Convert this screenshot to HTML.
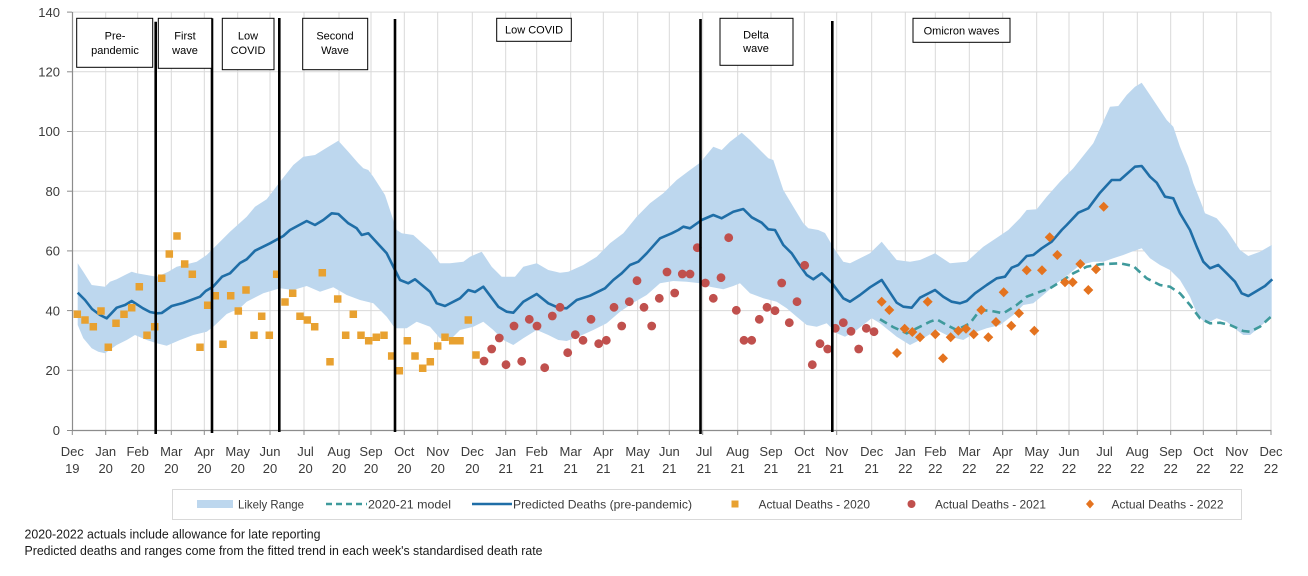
<!DOCTYPE html>
<html><head><meta charset="utf-8"><style>
html,body{margin:0;padding:0;background:#fff;}
svg{display:block;font-family:"Liberation Sans",sans-serif;}
</style></head><body>
<svg width="1308" height="576" viewBox="0 0 1308 576" xmlns="http://www.w3.org/2000/svg">
<rect width="1308" height="576" fill="#fff"/>
<!-- horizontal grid -->
<g stroke="#d9d9d9" stroke-width="1">
<line x1="72" y1="12.1" x2="1271" y2="12.1"/>
<line x1="72" y1="71.8" x2="1271" y2="71.8"/>
<line x1="72" y1="131.5" x2="1271" y2="131.5"/>
<line x1="72" y1="191.2" x2="1271" y2="191.2"/>
<line x1="72" y1="250.9" x2="1271" y2="250.9"/>
<line x1="72" y1="310.6" x2="1271" y2="310.6"/>
<line x1="72" y1="370.3" x2="1271" y2="370.3"/>
</g>
<!-- vertical grid -->
<g stroke="#d9d9d9" stroke-width="1">
<line x1="105.7" y1="12" x2="105.7" y2="430"/><line x1="137.7" y1="12" x2="137.7" y2="430"/><line x1="171.3" y1="12" x2="171.3" y2="430"/><line x1="204.3" y1="12" x2="204.3" y2="430"/><line x1="237.7" y1="12" x2="237.7" y2="430"/><line x1="270" y1="12" x2="270" y2="430"/><line x1="304" y1="12" x2="304" y2="430"/><line x1="339" y1="12" x2="339" y2="430"/><line x1="371" y1="12" x2="371" y2="430"/><line x1="404.3" y1="12" x2="404.3" y2="430"/><line x1="437.7" y1="12" x2="437.7" y2="430"/><line x1="472.3" y1="12" x2="472.3" y2="430"/><line x1="505.7" y1="12" x2="505.7" y2="430"/><line x1="536.7" y1="12" x2="536.7" y2="430"/><line x1="570.7" y1="12" x2="570.7" y2="430"/><line x1="603.3" y1="12" x2="603.3" y2="430"/><line x1="637.7" y1="12" x2="637.7" y2="430"/><line x1="669.3" y1="12" x2="669.3" y2="430"/><line x1="702.7" y1="12" x2="702.7" y2="430"/><line x1="737.7" y1="12" x2="737.7" y2="430"/><line x1="771" y1="12" x2="771" y2="430"/><line x1="804.3" y1="12" x2="804.3" y2="430"/><line x1="836.7" y1="12" x2="836.7" y2="430"/><line x1="871.7" y1="12" x2="871.7" y2="430"/><line x1="905.3" y1="12" x2="905.3" y2="430"/><line x1="935.3" y1="12" x2="935.3" y2="430"/><line x1="969.3" y1="12" x2="969.3" y2="430"/><line x1="1002.7" y1="12" x2="1002.7" y2="430"/><line x1="1036.7" y1="12" x2="1036.7" y2="430"/><line x1="1069" y1="12" x2="1069" y2="430"/><line x1="1103.3" y1="12" x2="1103.3" y2="430"/><line x1="1137.3" y1="12" x2="1137.3" y2="430"/><line x1="1170.7" y1="12" x2="1170.7" y2="430"/><line x1="1203.3" y1="12" x2="1203.3" y2="430"/><line x1="1236.7" y1="12" x2="1236.7" y2="430"/><line x1="1271" y1="12" x2="1271" y2="430"/>
</g>
<!-- band -->
<polygon fill="#bdd7ee" points="77.7,263.3 83.3,271.7 91.7,285 105,286.7 110,281.7 116.7,279.3 125,275 131.7,271.7 136.7,273.3 146.7,275 156.7,276.7 168.3,271.7 176.7,266.7 196.7,261.7 206.7,255 220,241.7 230,231.7 246.7,216.7 255,206.7 266.7,199.3 280,181.7 293.3,165 303.3,156.7 315,155 326.7,147.7 338.3,140.7 348.3,151.7 358.3,163.3 363.3,168.3 368.3,170 373.3,176.7 385,195 393.3,220 396.7,230 401.7,233.3 413.3,235 430,250 440,263.3 450,263.3 463.3,261.7 470,256.7 481.7,251.7 491.7,266.7 501.7,276.7 515,276.7 523.3,266.7 536.7,263.3 548.3,270 560,272.7 568.3,271.7 583.3,265 596.7,256.7 610,243.3 623.3,233.3 636.7,216.7 650,203.3 663.3,193.3 676.7,180 690,170 700,162.7 713.3,146.7 721.7,150 730,141.7 741.7,132.7 750,140 760,150 768.3,158.3 773.3,160 783.3,190 793.3,206.7 803.3,223.3 808.3,228.3 818.3,230 825,233 835,250 843.3,261.7 850,263.3 870,253.3 881.7,241.7 896.7,260 910,261.7 920,260 935,253.3 950,263.3 966.7,261.7 983.3,246.7 998.3,236.7 1008.3,230 1020,218.3 1026.7,210 1036.7,209.3 1046.7,196.7 1060,181.7 1073.3,168.3 1093.3,143.3 1110,106.7 1118.3,106 1126.7,95 1135,86.7 1141.7,82.7 1150,95 1160,110 1166.7,120 1173.3,126.7 1180,146.7 1188.3,166.7 1193.3,183.3 1200,200 1205,213.3 1216.7,218.3 1226.7,230 1240,250 1248.3,256 1260,251.7 1271.7,245
1271.7,316.7 1260,326.7 1250,335 1243.3,335 1236.7,330 1226.7,321.7 1216.7,318.3 1206.7,323.3 1198.3,316.7 1190,296.7 1180,280 1170,270 1160,265 1150,258.3 1141.7,248.3 1131.7,251.7 1123.3,255 1113.3,258.3 1103.3,261.7 1093.3,261.7 1080,265 1070,273.3 1056.7,283.3 1043.3,295 1033.3,303.3 1023.3,305 1013.3,315 1000,325 986.7,328.3 976.7,331.7 963.3,340 950,336.7 936.7,330 923.3,338.3 910,345 896.7,336.7 888.3,330 880,323.3 871.7,318.3 856.7,330 845,336.7 836.7,333.3 826.7,323.3 816.7,326.7 806.7,325 796.7,316.7 786.7,308.3 776.7,301.7 763.3,298.3 750,293.3 740,283.3 733.3,286 723.3,289.3 710,286.7 700,283.3 686.7,281.7 673.3,281 660,283.3 646.7,295 633.3,302.7 620,311.7 606.7,323.3 593.3,330 580,336 566.7,341 558.3,340 548.3,335 536.7,330 523.3,338.3 513.3,345 503.3,340 493.3,330 483.3,321.7 473.3,326.7 460,330 450,340 440,338.3 430,326.7 416.7,321.7 406.7,328.3 395,328.3 386.7,316.7 373.3,303.3 360,300 346.7,295 333.3,287.3 320,291.7 306.7,286 293.3,290 280,288.3 263.3,293.3 246.7,301.7 240,308 226.7,314 213.3,326.7 206.7,331.7 193.3,335 180,340 166.7,345.7 156.7,343.3 146.7,340 135,335 126.7,340 116.7,345 105,353.3 98.3,351.7 91.7,348.3 83.3,338.3 77.7,325"/>
<!-- axes -->
<line x1="72.5" y1="12" x2="72.5" y2="430.5" stroke="#8c8c8c" stroke-width="1.2"/>
<line x1="72" y1="430.5" x2="1271.5" y2="430.5" stroke="#8c8c8c" stroke-width="1.2"/>
<g stroke="#8c8c8c" stroke-width="1">
<line x1="67" y1="12.1" x2="72" y2="12.1"/><line x1="67" y1="71.8" x2="72" y2="71.8"/><line x1="67" y1="131.5" x2="72" y2="131.5"/><line x1="67" y1="191.2" x2="72" y2="191.2"/><line x1="67" y1="250.9" x2="72" y2="250.9"/><line x1="67" y1="310.6" x2="72" y2="310.6"/><line x1="67" y1="370.3" x2="72" y2="370.3"/><line x1="67" y1="430.5" x2="72" y2="430.5"/>
<line x1="72.3" y1="430" x2="72.3" y2="435"/><line x1="105.7" y1="430" x2="105.7" y2="435"/><line x1="137.7" y1="430" x2="137.7" y2="435"/><line x1="171.3" y1="430" x2="171.3" y2="435"/><line x1="204.3" y1="430" x2="204.3" y2="435"/><line x1="237.7" y1="430" x2="237.7" y2="435"/><line x1="270" y1="430" x2="270" y2="435"/><line x1="304" y1="430" x2="304" y2="435"/><line x1="339" y1="430" x2="339" y2="435"/><line x1="371" y1="430" x2="371" y2="435"/><line x1="404.3" y1="430" x2="404.3" y2="435"/><line x1="437.7" y1="430" x2="437.7" y2="435"/><line x1="472.3" y1="430" x2="472.3" y2="435"/><line x1="505.7" y1="430" x2="505.7" y2="435"/><line x1="536.7" y1="430" x2="536.7" y2="435"/><line x1="570.7" y1="430" x2="570.7" y2="435"/><line x1="603.3" y1="430" x2="603.3" y2="435"/><line x1="637.7" y1="430" x2="637.7" y2="435"/><line x1="669.3" y1="430" x2="669.3" y2="435"/><line x1="702.7" y1="430" x2="702.7" y2="435"/><line x1="737.7" y1="430" x2="737.7" y2="435"/><line x1="771" y1="430" x2="771" y2="435"/><line x1="804.3" y1="430" x2="804.3" y2="435"/><line x1="836.7" y1="430" x2="836.7" y2="435"/><line x1="871.7" y1="430" x2="871.7" y2="435"/><line x1="905.3" y1="430" x2="905.3" y2="435"/><line x1="935.3" y1="430" x2="935.3" y2="435"/><line x1="969.3" y1="430" x2="969.3" y2="435"/><line x1="1002.7" y1="430" x2="1002.7" y2="435"/><line x1="1036.7" y1="430" x2="1036.7" y2="435"/><line x1="1069" y1="430" x2="1069" y2="435"/><line x1="1103.3" y1="430" x2="1103.3" y2="435"/><line x1="1137.3" y1="430" x2="1137.3" y2="435"/><line x1="1170.7" y1="430" x2="1170.7" y2="435"/><line x1="1203.3" y1="430" x2="1203.3" y2="435"/><line x1="1236.7" y1="430" x2="1236.7" y2="435"/><line x1="1271" y1="430" x2="1271" y2="435"/>
</g>
<!-- dashed 2020-21 model -->
<polyline fill="none" stroke="#3f9a9c" stroke-width="2.6" stroke-dasharray="8,5" points="880,319.3 893,327 906.7,333.3 916.7,328.3 930,321.7 936.7,319.3 946.7,325 956.7,330 970,323.3 980,310 991.7,311 1003.3,313.3 1016.7,305 1026.7,296.7 1040,291.7 1050,288.3 1063.3,280 1073.3,273.3 1086.7,266.7 1100,264.3 1120,263.3 1133.3,266 1146.7,278.3 1160,285 1170,286.7 1180,293.3 1190,305 1200,318.3 1210,323.3 1220,322.7 1230,325 1243.3,331 1250,331.7 1260,326.7 1271.7,316"/>
<!-- predicted line -->
<polyline fill="none" stroke="#1f6ea7" stroke-width="2.6" stroke-linejoin="round" points="77.7,292.7 85,300 92,309 100,315 106.7,318.3 116.7,307.7 125,305 131.7,301 143,308.3 150,312 156.7,313.3 161.7,313 171.7,306 183,303 200,296.7 205.7,291 213,286.7 222,276.7 230,273.3 240,263 246.7,259.3 255,250.7 270,243.3 283.3,236 290,230 306.7,221 315,225 323.3,220 331.7,213.3 338.3,214 348.3,223.3 356.7,228.3 361.7,235 368.3,233.3 386.7,253.3 395,270 400,280 408.3,283.3 415,279.3 430,291.7 436.7,303.3 445,306 460,298.3 468.3,290 475,292 483.3,286.7 498.3,306.7 506.7,311.7 513.3,312.7 523.3,301.7 536.7,294 548.3,303.3 558.3,307.7 566.7,308.3 576.7,300 590,295.7 605,288.3 613.3,280 621.7,273.3 630,265 638.3,261.7 646.7,253.3 660,238.3 671.7,233.3 678.3,230 683.3,226.7 690,228.3 701.7,220 713.3,215 721.7,218.3 733.3,211.7 743.3,209 751.7,217.3 761.7,222.7 768.3,229.3 775,230 783.3,245 791.7,253.3 798.3,263.3 806.7,275 813.3,279.3 821.7,273.3 831.7,282.7 843.3,298.3 850,301.7 860,295 870,287.3 881.7,280 896.7,302.7 903.3,306.7 911.7,307.7 920,297.7 935,290 943.3,296.7 951.7,301.7 960,303.3 966.7,301 975,293.3 986.7,285 996.7,278.3 1005,276.7 1011.7,267.7 1018.3,265 1026.7,256 1033.3,255 1041.7,248.3 1051.7,241.7 1061.7,230 1066.7,225 1078.3,212.7 1088.3,208.3 1100,192.7 1111.7,180 1120,180 1135,166.7 1141.7,166 1150,176.7 1156.7,182.7 1165,196.7 1173.3,198.3 1180,213.3 1190,230 1196.7,246.7 1203.3,261.7 1210,268.3 1218.3,265 1226.7,273.3 1235,281.7 1241.7,293.3 1248.3,296 1256.7,291 1265,286 1272.3,279.3"/>
<!-- 2020 squares -->
<path fill="#e8a130" d="M77.3 314.3m-3.75 -3.75h7.5v7.5h-7.5z M85 320m-3.75 -3.75h7.5v7.5h-7.5z M93.3 326.7m-3.75 -3.75h7.5v7.5h-7.5z M101 311m-3.75 -3.75h7.5v7.5h-7.5z M108.3 347.3m-3.75 -3.75h7.5v7.5h-7.5z M116 323.3m-3.75 -3.75h7.5v7.5h-7.5z M124 314.3m-3.75 -3.75h7.5v7.5h-7.5z M131.7 307.7m-3.75 -3.75h7.5v7.5h-7.5z M139.3 286.7m-3.75 -3.75h7.5v7.5h-7.5z M147 335.3m-3.75 -3.75h7.5v7.5h-7.5z M154.7 326.7m-3.75 -3.75h7.5v7.5h-7.5z M161.7 278.3m-3.75 -3.75h7.5v7.5h-7.5z M169.3 254m-3.75 -3.75h7.5v7.5h-7.5z M177 236m-3.75 -3.75h7.5v7.5h-7.5z M184.7 264m-3.75 -3.75h7.5v7.5h-7.5z M192.3 274.3m-3.75 -3.75h7.5v7.5h-7.5z M200 347.3m-3.75 -3.75h7.5v7.5h-7.5z M207.7 305.3m-3.75 -3.75h7.5v7.5h-7.5z M215.3 295.7m-3.75 -3.75h7.5v7.5h-7.5z M223 344.3m-3.75 -3.75h7.5v7.5h-7.5z M230.7 295.7m-3.75 -3.75h7.5v7.5h-7.5z M238.3 311m-3.75 -3.75h7.5v7.5h-7.5z M246 290m-3.75 -3.75h7.5v7.5h-7.5z M254 335.3m-3.75 -3.75h7.5v7.5h-7.5z M261.7 316.3m-3.75 -3.75h7.5v7.5h-7.5z M269.3 335.3m-3.75 -3.75h7.5v7.5h-7.5z M276.7 274.3m-3.75 -3.75h7.5v7.5h-7.5z M285 302m-3.75 -3.75h7.5v7.5h-7.5z M292.7 293.3m-3.75 -3.75h7.5v7.5h-7.5z M300 316.3m-3.75 -3.75h7.5v7.5h-7.5z M307.3 320m-3.75 -3.75h7.5v7.5h-7.5z M314.7 326.7m-3.75 -3.75h7.5v7.5h-7.5z M322.3 272.7m-3.75 -3.75h7.5v7.5h-7.5z M330 361.7m-3.75 -3.75h7.5v7.5h-7.5z M337.7 299m-3.75 -3.75h7.5v7.5h-7.5z M345.7 335.3m-3.75 -3.75h7.5v7.5h-7.5z M353.3 314.3m-3.75 -3.75h7.5v7.5h-7.5z M361 335.3m-3.75 -3.75h7.5v7.5h-7.5z M368.7 340.7m-3.75 -3.75h7.5v7.5h-7.5z M376.3 337.3m-3.75 -3.75h7.5v7.5h-7.5z M384 335.3m-3.75 -3.75h7.5v7.5h-7.5z M391.7 356m-3.75 -3.75h7.5v7.5h-7.5z M399.3 370.7m-3.75 -3.75h7.5v7.5h-7.5z M407.3 340.7m-3.75 -3.75h7.5v7.5h-7.5z M415 356m-3.75 -3.75h7.5v7.5h-7.5z M422.7 368.3m-3.75 -3.75h7.5v7.5h-7.5z M430.3 361.7m-3.75 -3.75h7.5v7.5h-7.5z M437.7 346m-3.75 -3.75h7.5v7.5h-7.5z M445 337.3m-3.75 -3.75h7.5v7.5h-7.5z M452.7 340.7m-3.75 -3.75h7.5v7.5h-7.5z M460 340.7m-3.75 -3.75h7.5v7.5h-7.5z M468.3 320m-3.75 -3.75h7.5v7.5h-7.5z M476 355m-3.75 -3.75h7.5v7.5h-7.5z"/>
<!-- 2021 circles -->
<g fill="#c0504d">
<circle cx="484" cy="361" r="4.4"/><circle cx="491.7" cy="349" r="4.4"/><circle cx="499.3" cy="338" r="4.4"/><circle cx="506" cy="364.7" r="4.4"/><circle cx="514" cy="326" r="4.4"/><circle cx="521.7" cy="361.3" r="4.4"/><circle cx="529.3" cy="319.3" r="4.4"/><circle cx="537" cy="326" r="4.4"/><circle cx="544.7" cy="367.7" r="4.4"/><circle cx="552.3" cy="316" r="4.4"/><circle cx="560" cy="307.3" r="4.4"/><circle cx="567.7" cy="352.7" r="4.4"/><circle cx="575.3" cy="334.7" r="4.4"/><circle cx="583" cy="340.3" r="4.4"/><circle cx="591" cy="319.3" r="4.4"/><circle cx="598.7" cy="343.7" r="4.4"/><circle cx="606.3" cy="340.3" r="4.4"/><circle cx="614" cy="307.3" r="4.4"/><circle cx="621.7" cy="326" r="4.4"/><circle cx="629.3" cy="301.7" r="4.4"/><circle cx="637" cy="280.7" r="4.4"/><circle cx="644" cy="307.3" r="4.4"/><circle cx="651.7" cy="326" r="4.4"/><circle cx="659.3" cy="298.3" r="4.4"/><circle cx="667" cy="272" r="4.4"/><circle cx="674.7" cy="293" r="4.4"/><circle cx="682.3" cy="274" r="4.4"/><circle cx="690" cy="274" r="4.4"/><circle cx="697.3" cy="247.7" r="4.4"/><circle cx="705.3" cy="283" r="4.4"/><circle cx="713.3" cy="298.3" r="4.4"/><circle cx="721" cy="277.7" r="4.4"/><circle cx="728.7" cy="237.7" r="4.4"/><circle cx="736.3" cy="310.3" r="4.4"/><circle cx="744" cy="340.3" r="4.4"/><circle cx="751.7" cy="340.3" r="4.4"/><circle cx="759.3" cy="319.3" r="4.4"/><circle cx="767" cy="307.3" r="4.4"/><circle cx="775" cy="310.7" r="4.4"/><circle cx="781.7" cy="283" r="4.4"/><circle cx="789.3" cy="322.7" r="4.4"/><circle cx="797" cy="301.7" r="4.4"/><circle cx="804.7" cy="265.3" r="4.4"/><circle cx="812.3" cy="364.7" r="4.4"/><circle cx="820" cy="343.7" r="4.4"/><circle cx="827.7" cy="349" r="4.4"/><circle cx="835.3" cy="328.3" r="4.4"/><circle cx="843.3" cy="322.7" r="4.4"/><circle cx="851" cy="331.3" r="4.4"/><circle cx="858.7" cy="349" r="4.4"/><circle cx="866.3" cy="328.3" r="4.4"/><circle cx="874" cy="331.7" r="4.4"/>
</g>
<!-- 2022 diamonds -->
<path fill="#e4731f" d="M881.7 301.7m0 -5l5 5-5 5-5-5z M889.3 310m0 -5l5 5-5 5-5-5z M897 353m0 -5l5 5-5 5-5-5z M904.7 328.7m0 -5l5 5-5 5-5-5z M912.3 332m0 -5l5 5-5 5-5-5z M920 337.3m0 -5l5 5-5 5-5-5z M927.7 301.7m0 -5l5 5-5 5-5-5z M935.3 334.3m0 -5l5 5-5 5-5-5z M943 358.3m0 -5l5 5-5 5-5-5z M950.7 337.3m0 -5l5 5-5 5-5-5z M958.3 330.7m0 -5l5 5-5 5-5-5z M966 328.7m0 -5l5 5-5 5-5-5z M973.7 334.3m0 -5l5 5-5 5-5-5z M981.3 310m0 -5l5 5-5 5-5-5z M988.3 337.3m0 -5l5 5-5 5-5-5z M996 322m0 -5l5 5-5 5-5-5z M1003.7 292.3m0 -5l5 5-5 5-5-5z M1011.3 325.7m0 -5l5 5-5 5-5-5z M1019 313.3m0 -5l5 5-5 5-5-5z M1026.7 270.3m0 -5l5 5-5 5-5-5z M1034.3 330.7m0 -5l5 5-5 5-5-5z M1042 270.3m0 -5l5 5-5 5-5-5z M1049.7 237.3m0 -5l5 5-5 5-5-5z M1057.3 255m0 -5l5 5-5 5-5-5z M1065 282.3m0 -5l5 5-5 5-5-5z M1072.7 282.3m0 -5l5 5-5 5-5-5z M1080.3 264m0 -5l5 5-5 5-5-5z M1088.3 290m0 -5l5 5-5 5-5-5z M1096 269.3m0 -5l5 5-5 5-5-5z M1103.7 206.7m0 -5l5 5-5 5-5-5z"/>
<!-- black phase lines -->
<g stroke="#000" stroke-width="2.6">
<line x1="155.7" y1="21.7" x2="155.7" y2="434"/>
<line x1="212" y1="18.3" x2="212" y2="433"/>
<line x1="279.3" y1="18" x2="279.3" y2="432"/>
<line x1="395" y1="19" x2="395" y2="432"/>
<line x1="700.5" y1="19" x2="700.5" y2="434"/>
<line x1="832.3" y1="21" x2="832.3" y2="432"/>
</g>
<!-- phase boxes -->
<g fill="#fff" stroke="#000" stroke-width="1">
<rect x="76.7" y="18.3" width="76" height="49"/>
<rect x="158.3" y="18.3" width="53.4" height="50"/>
<rect x="222.3" y="18.3" width="51.7" height="51.4"/>
<rect x="302.7" y="18.3" width="65" height="51.4"/>
<rect x="496.7" y="18.3" width="74.6" height="23"/>
<rect x="720" y="18.3" width="73" height="47"/>
<rect x="913" y="18.3" width="97" height="24"/>
</g>
<g font-size="11" fill="#000" text-anchor="middle">
<text x="115" y="39.3">Pre-</text><text x="115" y="54">pandemic</text>
<text x="185" y="39.3">First</text><text x="185" y="54">wave</text>
<text x="248" y="39.3">Low</text><text x="248" y="54">COVID</text>
<text x="335" y="39.3">Second</text><text x="335" y="54">Wave</text>
<text x="534" y="33.5">Low COVID</text>
<text x="756" y="38.3">Delta</text><text x="756" y="52">wave</text>
<text x="961.5" y="34.3">Omicron waves</text>
</g>
<!-- y labels -->
<g font-size="13" fill="#3b3b3b" text-anchor="end">
<text x="60" y="17">140</text><text x="60" y="76.5">120</text><text x="60" y="136.2">100</text><text x="60" y="195.9">80</text><text x="60" y="255.6">60</text><text x="60" y="315.3">40</text><text x="60" y="375">20</text><text x="60" y="435">0</text>
</g>
<!-- x labels -->
<g font-size="13" fill="#3b3b3b" text-anchor="middle">
<text x="72.3" y="456">Dec</text><text x="72.3" y="473">19</text>
<text x="105.7" y="456">Jan</text><text x="105.7" y="473">20</text>
<text x="137.7" y="456">Feb</text><text x="137.7" y="473">20</text>
<text x="171.3" y="456">Mar</text><text x="171.3" y="473">20</text>
<text x="204.3" y="456">Apr</text><text x="204.3" y="473">20</text>
<text x="237.7" y="456">May</text><text x="237.7" y="473">20</text>
<text x="270" y="456">Jun</text><text x="270" y="473">20</text>
<text x="305.5" y="456">Jul</text><text x="305.5" y="473">20</text>
<text x="339" y="456">Aug</text><text x="339" y="473">20</text>
<text x="371" y="456">Sep</text><text x="371" y="473">20</text>
<text x="404.3" y="456">Oct</text><text x="404.3" y="473">20</text>
<text x="437.7" y="456">Nov</text><text x="437.7" y="473">20</text>
<text x="472.3" y="456">Dec</text><text x="472.3" y="473">20</text>
<text x="505.7" y="456">Jan</text><text x="505.7" y="473">21</text>
<text x="536.7" y="456">Feb</text><text x="536.7" y="473">21</text>
<text x="570.7" y="456">Mar</text><text x="570.7" y="473">21</text>
<text x="603.3" y="456">Apr</text><text x="603.3" y="473">21</text>
<text x="637.7" y="456">May</text><text x="637.7" y="473">21</text>
<text x="669.3" y="456">Jun</text><text x="669.3" y="473">21</text>
<text x="704" y="456">Jul</text><text x="704" y="473">21</text>
<text x="737.7" y="456">Aug</text><text x="737.7" y="473">21</text>
<text x="771" y="456">Sep</text><text x="771" y="473">21</text>
<text x="804.3" y="456">Oct</text><text x="804.3" y="473">21</text>
<text x="836.7" y="456">Nov</text><text x="836.7" y="473">21</text>
<text x="871.7" y="456">Dec</text><text x="871.7" y="473">21</text>
<text x="905.3" y="456">Jan</text><text x="905.3" y="473">22</text>
<text x="935.3" y="456">Feb</text><text x="935.3" y="473">22</text>
<text x="969.3" y="456">Mar</text><text x="969.3" y="473">22</text>
<text x="1002.7" y="456">Apr</text><text x="1002.7" y="473">22</text>
<text x="1036.7" y="456">May</text><text x="1036.7" y="473">22</text>
<text x="1069" y="456">Jun</text><text x="1069" y="473">22</text>
<text x="1104.5" y="456">Jul</text><text x="1104.5" y="473">22</text>
<text x="1137.3" y="456">Aug</text><text x="1137.3" y="473">22</text>
<text x="1170.7" y="456">Sep</text><text x="1170.7" y="473">22</text>
<text x="1203.3" y="456">Oct</text><text x="1203.3" y="473">22</text>
<text x="1236.7" y="456">Nov</text><text x="1236.7" y="473">22</text>
<text x="1271" y="456">Dec</text><text x="1271" y="473">22</text>
</g>
<!-- legend -->
<rect x="172.5" y="489.5" width="1069" height="30" fill="#fff" stroke="#d9d9d9" stroke-width="1"/>
<rect x="197" y="500" width="36" height="8" fill="#bdd7ee"/>
<line x1="326" y1="504" x2="367" y2="504" stroke="#3f9a9c" stroke-width="2.6" stroke-dasharray="6,4"/>
<line x1="472" y1="504" x2="512" y2="504" stroke="#1f6ea7" stroke-width="2.6"/>
<rect x="731.5" y="500.5" width="7" height="7" fill="#e8a130"/>
<circle cx="911.5" cy="504" r="4" fill="#c0504d"/>
<path d="M1090 499.5l4 4.5-4 4.5-4-4.5z" fill="#e4731f"/>
<g font-size="12" fill="#3b3b3b" lengthAdjust="spacingAndGlyphs">
<text x="238" y="508.5" textLength="66" lengthAdjust="spacingAndGlyphs">Likely Range</text>
<text x="368" y="508.5" textLength="83" lengthAdjust="spacingAndGlyphs">2020-21 model</text>
<text x="513" y="508.5" textLength="179" lengthAdjust="spacingAndGlyphs">Predicted Deaths (pre-pandemic)</text>
<text x="758.5" y="508.5" textLength="111.5" lengthAdjust="spacingAndGlyphs">Actual Deaths - 2020</text>
<text x="935" y="508.5" textLength="111" lengthAdjust="spacingAndGlyphs">Actual Deaths - 2021</text>
<text x="1111.5" y="508.5" textLength="112" lengthAdjust="spacingAndGlyphs">Actual Deaths - 2022</text>
</g>
<!-- footer -->
<g font-size="12.5" fill="#1a1a1a">
<text x="24.5" y="538.5" textLength="296" lengthAdjust="spacingAndGlyphs">2020-2022 actuals include allowance for late reporting</text>
<text x="24.5" y="555" textLength="518" lengthAdjust="spacingAndGlyphs">Predicted deaths and ranges come from the fitted trend in each week's standardised death rate</text>
</g>
</svg>
</body></html>
